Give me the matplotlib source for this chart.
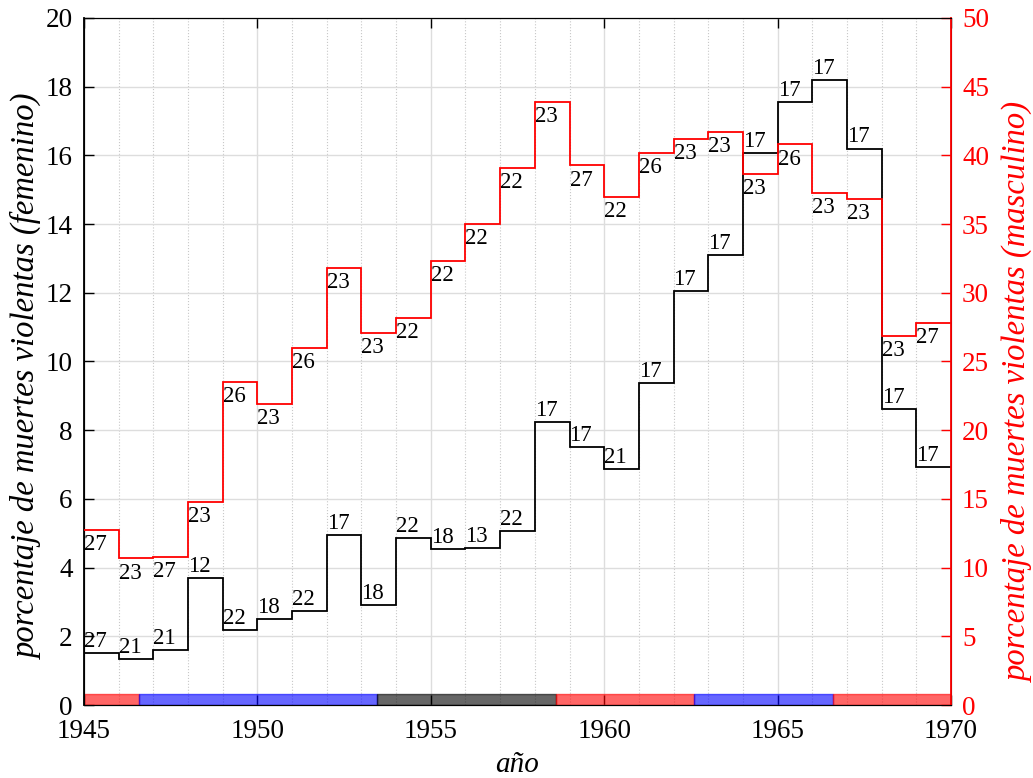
import matplotlib
matplotlib.use("Agg")
import matplotlib.pyplot as plt
import numpy as np

# ---- data ----
years = list(range(1945, 1970))
fem = [1.50, 1.33, 1.60, 3.71, 2.18, 2.51, 2.75, 4.95, 2.90, 4.87,
       4.53, 4.58, 5.07, 8.25, 7.52, 6.87, 9.36, 12.05, 13.10, 16.06,
       17.55, 18.19, 16.20, 8.63, 6.93]
fem_labels = ["27", "21", "21", "12", "22", "18", "22", "17", "18", "22",
              "18", "13", "22", "17", "17", "21", "17", "17", "17", "17",
              "17", "17", "17", "17", "17"]
masc = [12.74, 10.67, 10.75, 14.75, 23.50, 21.88, 26.00, 31.78, 27.10, 28.20,
        32.30, 35.03, 39.06, 43.90, 39.27, 36.97, 40.20, 41.20, 41.70, 38.67,
        40.80, 37.26, 36.80, 26.88, 27.82]
masc_labels = ["27", "23", "27", "23", "26", "23", "26", "23", "23", "22",
               "22", "22", "22", "23", "27", "22", "26", "23", "23", "23",
               "26", "23", "23", "23", "27"]
# periods along the bottom (start, end, colour)
period_start = [1945.0, 1946.6, 1953.45, 1958.6, 1962.6, 1966.6]
period_end = [1946.6, 1953.45, 1958.6, 1962.6, 1966.6, 1970.0]
period_color = ["red", "blue", "black", "red", "blue", "red"]

plt.rcParams['font.family'] = ['Liberation Serif', 'DejaVu Serif']

fig = plt.figure(figsize=(10.33, 7.78), dpi=100)
ax = fig.add_axes([0.0813, 0.0938, 0.8393, 0.8831])
ax2 = ax.twinx()

edges = years + [1970]

# black (femenino) step line
ax.stairs(fem, edges, color='black', linewidth=1.3, zorder=3, baseline=None)
for x, y, t in zip(years, fem, fem_labels):
    ax.text(x, y + 0.03, t, ha='left', va='bottom', fontsize=16.5, color='black', zorder=4)

# red (masculino) step line
ax2.stairs(masc, edges, color='red', linewidth=1.3, zorder=3, baseline=None)
for x, y, t in zip(years, masc, masc_labels):
    ax2.text(x, y - 0.3, t, ha='left', va='top', fontsize=16.5, color='black', zorder=4)

# period bar
for s, e, c in zip(period_start, period_end, period_color):
    ax.add_patch(plt.Rectangle((s, 0.0), e - s, 0.33, facecolor=c, alpha=0.6,
                               edgecolor=c, linewidth=1.0, zorder=1))

ax.set_xlim(1945, 1970)
ax.set_ylim(0, 20)
ax2.set_ylim(0, 50)
ax.set_xticks(range(1945, 1971, 5))
ax.set_xticks(range(1945, 1971, 1), minor=True)
ax.set_yticks(range(0, 21, 2))
ax2.set_yticks(range(0, 51, 5))

ax.grid(True, which='major', axis='both', color='#dddddd', linewidth=1.0, zorder=0)
ax.grid(True, which='minor', axis='x', color='#c8c8c8', linewidth=0.8, linestyle=':', zorder=0)
ax.set_axisbelow(True)

ax.tick_params(axis='both', which='major', direction='in', length=7, labelsize=19.5,
               top=True, right=False, width=1.0)
ax.tick_params(axis='x', which='minor', length=0, top=False)
ax.tick_params(axis='x', pad=10)
ax.tick_params(axis='y', pad=8)
ax2.tick_params(axis='y', direction='in', length=7, labelsize=19.5, colors='red', width=1.0, pad=8)

for sp in ['left', 'bottom', 'top']:
    ax.spines[sp].set_color('black')
ax2.spines['right'].set_color('red')
ax2.spines['right'].set_linewidth(1.3)
ax.spines['left'].set_linewidth(1.3)

ax.set_xlabel('año', fontsize=21, style='italic')
ax.xaxis.set_label_coords(0.5, -0.068)
ax.set_ylabel('porcentaje de muertes violentas (femenino)', fontsize=23.5, style='italic')
ax.yaxis.set_label_coords(-0.047, 0.479)
ax2.set_ylabel('porcentaje de muertes violentas (masculino)', fontsize=23.5, style='italic',
               color='red')
ax2.yaxis.set_label_coords(1.06, 0.455)

fig.savefig('out.png', dpi=100)
